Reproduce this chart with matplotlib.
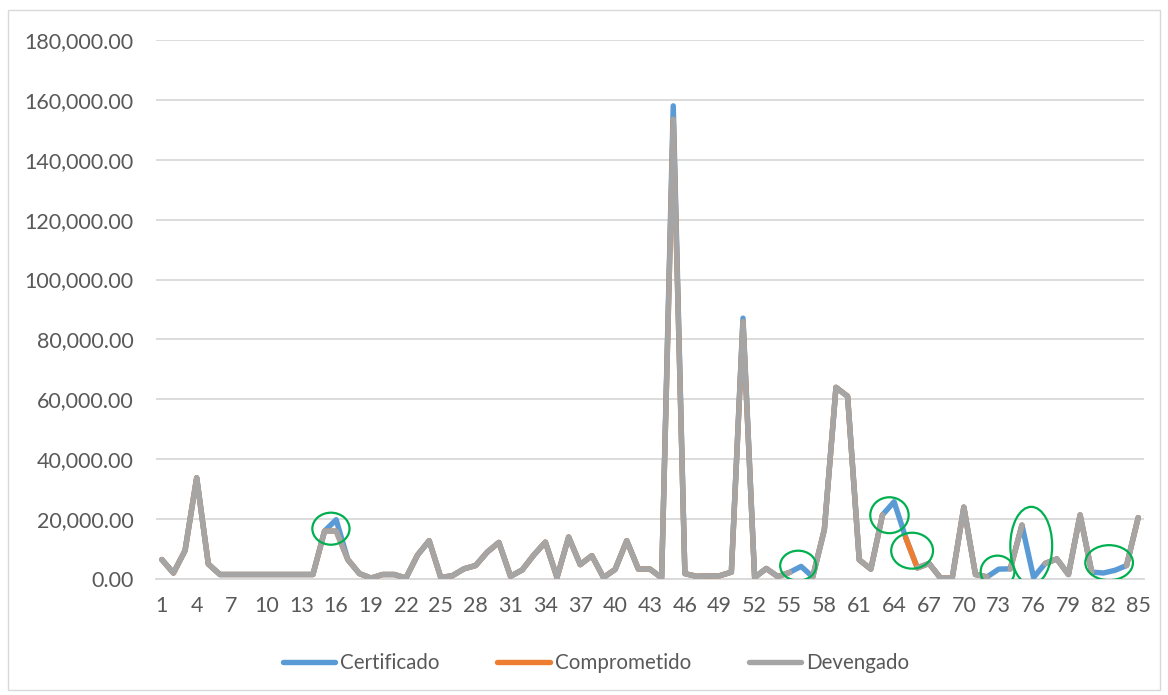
import numpy as np
import matplotlib
matplotlib.use('Agg')
import matplotlib.pyplot as plt
from matplotlib.patches import Ellipse, Rectangle
from matplotlib.ticker import FuncFormatter

nan = np.nan

# series values, one per period (1..85); nan = empty cell (gap in the line)
certificado = [
    6500, 2000, 9500, 33800, 5000, 1500, 1500, 1500, 1500, 1500,
    1500, 1500, 1500, 1500, 16000, 19800, 6500, 1800, 300, 1500,
    1500, 300, 8000, 12800, 500, 1100, 3400, 4500, 9000, 12200,
    900, 3000, 8000, 12300, 500, 14000, 4800, 7800, 500, 3200,
    12800, 3300, 3300, 400, 158000, 1800, 900, 1000, 1100, 2300,
    87100, 500, 3500, 800, 2200, 4200, 700, 16500, 64000, 61000,
    6400, 3300, 21400, 25800, 13800, 3700, 5200, 300, 300, 24000,
    1500, 700, 3300, 3400, 18000, 500, 5200, 6700, 1500, 21400,
    2300, 2000, 2900, 4500, 20500,
]
comprometido = [
    6500, 2000, 9500, 33800, 5000, 1500, 1500, 1500, 1500, 1500,
    1500, 1500, 1500, 1500, 16000, 16000, 6500, 1800, 300, 1500,
    1500, 300, 8000, 12800, 500, 1100, 3400, 4500, 9000, 12200,
    900, 3000, 8000, 12300, 500, 14000, 4800, 7800, 500, 3200,
    12800, 3300, 3300, 400, 153500, 1800, 900, 1000, 1100, 2300,
    85900, 500, 3500, 800, 2200, nan, 700, 16500, 64000, 61000,
    6400, 3300, 21400, nan, 13800, 3700, 5200, 300, 300, 24000,
    1500, 700, nan, 3400, 18000, nan, 5200, 6700, 1500, 21400,
    2300, nan, nan, 4500, 20500,
]
devengado = [
    6500, 2000, 9500, 33800, 5000, 1500, 1500, 1500, 1500, 1500,
    1500, 1500, 1500, 1500, 16000, 16000, 6500, 1800, 300, 1500,
    1500, 300, 8000, 12800, 500, 1100, 3400, 4500, 9000, 12200,
    900, 3000, 8000, 12300, 500, 14000, 4800, 7800, 500, 3200,
    12800, 3300, 3300, 400, 153500, 1800, 900, 1000, 1100, 2300,
    85900, 500, 3500, 800, 2200, nan, 700, 16500, 64000, 61000,
    6400, 3300, 21400, nan, nan, 3700, 5200, 300, 300, 24000,
    1500, 700, nan, 3400, 18000, nan, 5200, 6700, 1500, 21400,
    2300, nan, nan, 4500, 20500,
]
periods = np.arange(1, len(certificado) + 1)
tick_periods = periods[::3]

# green highlight ellipses: (center period, center value, width in periods, height in value)
highlights = [
    (15.55, 16800, 3.2, 10700),
    (55.75, 4450, 3.1, 10000),
    (63.6, 21300, 3.3, 12000),
    (65.55, 9450, 3.6, 12000),
    (72.9, 2450, 2.9, 10700),
    (75.8, 11100, 3.6, 26000),
    (82.5, 5450, 4.1, 11700),
]

plt.rcParams['font.family'] = ['Lato', 'DejaVu Sans']
text_color = '#595959'
grid_color = '#D9D9D9'
font_size = 15.5

fig = plt.figure(figsize=(11.68, 6.95), dpi=100)
ax = fig.add_axes([156 / 1168, 1 - 579 / 695, (1144 - 156) / 1168, (579 - 40) / 695])

lw = 3.9
ax.plot(periods, certificado, color='#5B9BD5', lw=lw, label='Certificado',
        solid_capstyle='round', solid_joinstyle='round', zorder=3)
ax.plot(periods, comprometido, color='#ED7D31', lw=lw, label='Comprometido',
        solid_capstyle='round', solid_joinstyle='round', zorder=4)
ax.plot(periods, devengado, color='#A5A5A5', lw=lw, label='Devengado',
        solid_capstyle='round', solid_joinstyle='round', zorder=5)

for cx, cy, w, h in highlights:
    ax.add_patch(Ellipse((cx, cy), w, h, fill=False, edgecolor='#00B050', lw=1.6, zorder=6))

ax.set_xlim(0.5, len(periods) + 0.5)
ax.set_ylim(0, 180000)
ax.set_yticks(np.arange(0, 180001, 20000))
ax.yaxis.set_major_formatter(FuncFormatter(lambda v, p: f'{v:,.2f}'))
ax.set_xticks(tick_periods)
ax.set_xticklabels([str(p) for p in tick_periods])

ax.grid(axis='y', color=grid_color, lw=1.3, zorder=0)
ax.set_axisbelow(True)
for side in ['top', 'right', 'left']:
    ax.spines[side].set_visible(False)
ax.spines['bottom'].set_color(grid_color)
ax.spines['bottom'].set_linewidth(1.3)
ax.tick_params(axis='both', length=0, colors=text_color, labelsize=font_size)
ax.tick_params(axis='y', pad=16)
ax.tick_params(axis='x', pad=12)

leg = fig.legend(loc='center', bbox_to_anchor=(596 / 1168, 1 - 663 / 695), ncol=3,
                 frameon=False, fontsize=14.8, handlelength=2.55, handletextpad=0.25,
                 columnspacing=2.8)
for t in leg.get_texts():
    t.set_color(text_color)

fig.patches.append(Rectangle((8 / 1168, 5 / 695), (1160 - 8) / 1168, (685 - 5) / 695,
                             transform=fig.transFigure, fill=False,
                             edgecolor=grid_color, lw=1.0))

fig.savefig('out.png', dpi=100)
